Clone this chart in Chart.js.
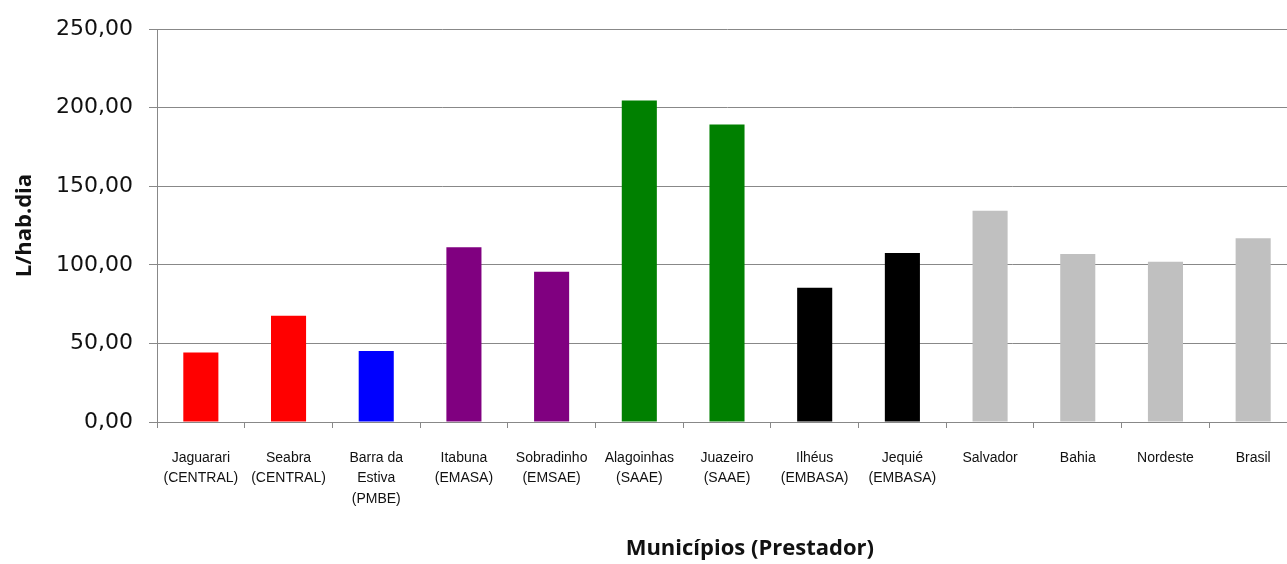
<!DOCTYPE html>
<html>
<head>
<meta charset="utf-8">
<script src="https://cdn.jsdelivr.net/npm/chart.js@4"></script>
<style>
  html, body { margin: 0; padding: 0; background: #fff; overflow: hidden; }
</style>
</head>
<body>
<canvas id="grafico" width="1300" height="564"></canvas>
<script>
// dados
const municipios = [
    ['Jaguarari', '(CENTRAL)'], ['Seabra', '(CENTRAL)'], ['Barra da', 'Estiva', '(PMBE)'],
    ['Itabuna', '(EMASA)'], ['Sobradinho', '(EMSAE)'], ['Alagoinhas', '(SAAE)'],
    ['Juazeiro', '(SAAE)'], ['Ilhéus', '(EMBASA)'], ['Jequié', '(EMBASA)'],
    'Salvador', 'Bahia', 'Nordeste', 'Brasil'
];
const consumo = [44.3, 67.6, 45.2, 111.3, 95.6, 204.6, 189.4, 85.5, 107.5, 134.5, 107.0, 102.0, 117.0];
const cores = ['#ff0000', '#ff0000', '#0000ff', '#800080', '#800080', '#008000', '#008000',
    '#000000', '#000000', '#c0c0c0', '#c0c0c0', '#c0c0c0', '#c0c0c0'];
const yMin = 0, yMax = 250, yPasso = 50;
const tituloX = 'Municípios (Prestador)';

// titulo do eixo x (no original fica um pouco deslocado para a direita)
const tituloEixoX = {
    id: 'tituloEixoX',
    afterDraw(chart) {
        const c = chart.ctx;
        c.save();
        c.font = 'bold 22px "Open Sans", Calibri, sans-serif';
        c.fillStyle = '#111';
        c.textAlign = 'center';
        c.textBaseline = 'middle';
        c.fillText(tituloX, chart.chartArea.left + chart.chartArea.width * 0.52, chart.height - 15);
        c.restore();
    }
};

const ctx = document.getElementById('grafico');

const grafico = new Chart(ctx, {
    type: 'bar',
    data: {
        labels: municipios,
        datasets: [{
            label: 'L/hab.dia',
            data: consumo,
            backgroundColor: cores,
            borderWidth: 0,
            barPercentage: 0.4,
            categoryPercentage: 1
        }]
    },
    plugins: [tituloEixoX],
    options: {
        responsive: false,
        animation: false,
        devicePixelRatio: 1,
        layout: { padding: { top: 27, right: 3, left: 0, bottom: 0 } },
        plugins: {
            legend: { display: false },
            tooltip: { enabled: false }
        },
        scales: {
            x: {
                afterFit: (s) => { s.height = 142; },
                grid: { drawOnChartArea: false, tickLength: 6, color: '#888' },
                border: { color: '#888' },
                ticks: {
                    maxRotation: 0, autoSkip: false, padding: 20, color: '#111',
                    font: { family: '"Liberation Sans Narrow", "Liberation Sans", Arial', size: 14, lineHeight: 1.45 }
                }
            },
            y: {
                min: yMin, max: yMax,
                afterFit: (s) => { s.width = 157; },
                grid: { color: '#888', tickLength: 8 },
                border: { color: '#888' },
                ticks: {
                    stepSize: yPasso, padding: 16, color: '#111',
                    font: { family: '"DejaVu Sans", Verdana, sans-serif', size: 22 },
                    callback: (v) => v.toFixed(2).replace('.', ',')
                },
                title: {
                    display: true, text: 'L/hab.dia', color: '#111',
                    font: { family: '"Open Sans", Calibri, sans-serif', size: 22, weight: 'bold' },
                    padding: { top: 12, bottom: 0 }
                }
            }
        }
    }
});
</script>
</body>
</html>
